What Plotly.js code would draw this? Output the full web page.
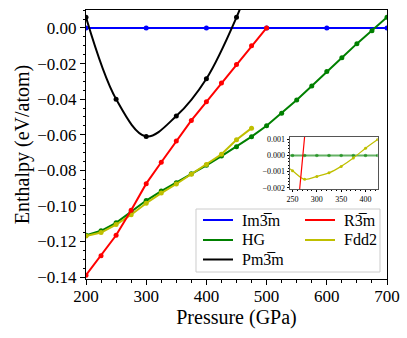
<!DOCTYPE html>
<html>
<head>
<meta charset="utf-8">
<script src="https://cdn.plot.ly/plotly-3.0.1.min.js"></script>
<style>
  body { margin: 0; background: #fff; }
  #plot { width: 407px; height: 338px; }
</style>
</head>
<body>
<div id="plot"></div>
<script>
// data (enthalpy relative to Im-3m, eV/atom)
var imP = [200, 300, 400, 500, 600, 700];
var imE = [0, 0, 0, 0, 0, 0];

var hgP = [200, 225, 250, 275, 300, 325, 350, 375, 400, 425, 450, 475, 500, 525, 550, 575, 600, 625, 650, 675, 700];
var hgE = [-0.1165, -0.1140, -0.1095, -0.1035, -0.0970, -0.0917, -0.0870, -0.0820, -0.0772, -0.0720, -0.0667, -0.0611,
           -0.0550, -0.0480, -0.0405, -0.0326, -0.0244, -0.0167, -0.0088, -0.0015, 0.0060];

var fddP = [200, 225, 250, 275, 300, 325, 350, 375, 400, 425, 450, 475];
var fddE = [-0.1170, -0.1150, -0.1105, -0.1050, -0.0985, -0.0928, -0.0877, -0.0822, -0.0768, -0.0710, -0.0628, -0.0563];

var rP = [200, 225, 250, 275, 300, 325, 350, 375, 400, 425, 450, 475, 500];
var rE = [-0.1390, -0.1280, -0.1165, -0.1025, -0.0875, -0.0755, -0.0635, -0.0520, -0.0415, -0.0310, -0.0205, -0.0100, 0.0000];

var pmP = [200, 250, 300, 350, 400, 450, 475];
var pmE = [0.0060, -0.0400, -0.0610, -0.0495, -0.0285, 0.0060, 0.0280];

// inset: relative to HG
var insP = [225, 250, 275, 300, 325, 350, 375, 400, 425];
var insHG = [0, 0, 0, 0, 0, 0, 0, 0, 0];
var insFdd = [-0.0004, -0.00095, -0.00148, -0.0013, -0.00108, -0.00068, -0.00016, 0.00044, 0.00098];
var insRP = [250, 275];
var insR = [-0.0068, 0.0012];

var names = ["Im3\u0305m", "HG", "Pm3\u0305m", "R3\u0305m", "Fdd2"];
var colors = ["#0000ff", "#008000", "#000000", "#ff0000", "#bfbf00"];

var serif = "Liberation Serif, Times New Roman, serif";

function curve(x, y, color, shape) {
  return {
    x: x, y: y, type: "scatter", mode: "lines+markers",
    line: { color: color, width: 2, shape: shape || "linear" },
    marker: { color: color, size: 5 },
    showlegend: false, hoverinfo: "skip"
  };
}

var traces = [
  curve(imP, imE, colors[0]),
  curve(hgP, hgE, colors[1]),
  curve(fddP, fddE, colors[4]),
  curve(rP, rE, colors[3]),
  curve(pmP, pmE, colors[2], "spline")
];

// inset traces
var tHG = curve(insP, insHG, "rgba(0,128,0,0.6)");
tHG.marker.size = 3.5; tHG.line.width = 2;
var tFdd = curve(insP, insFdd, colors[4], "spline");
tFdd.marker.size = 3; tFdd.line.width = 1.2;
var tR = curve(insRP, insR, colors[3]);
tR.mode = "lines"; tR.line.width = 1.2;
[tHG, tFdd, tR].forEach(function (t) { t.xaxis = "x2"; t.yaxis = "y2"; traces.push(t); });

// legend drawn by hand (2 columns, like the original)
var shapes = [{
  type: "rect", xref: "paper", yref: "paper",
  x0: 0.3654, x1: 0.9767, y0: 0.026, y1: 0.2602,
  line: { color: "#cccccc", width: 1 }, fillcolor: "rgba(255,255,255,0.85)", layer: "above"
}];
var annotations = [];
var legX = [0.3887, 0.3887, 0.3887, 0.7276, 0.7276];
var legY = [0.2193, 0.1450, 0.0725, 0.2193, 0.1450];
for (var i = 0; i < names.length; i++) {
  shapes.push({
    type: "line", xref: "paper", yref: "paper",
    x0: legX[i], x1: legX[i] + 0.0997, y0: legY[i], y1: legY[i],
    line: { color: colors[i], width: 2 }, layer: "above"
  });
  annotations.push({
    xref: "paper", yref: "paper", x: legX[i] + 0.123, y: legY[i],
    xanchor: "left", yanchor: "middle", showarrow: false, text: names[i],
    font: { family: serif, size: 16, color: "#000" }
  });
}

var layout = {
  width: 407, height: 338,
  margin: { l: 86, r: 20, t: 10, b: 59 },
  paper_bgcolor: "#fff", plot_bgcolor: "#fff",
  showlegend: false,
  font: { family: serif, color: "#000" },
  xaxis: {
    range: [200, 700], dtick: 100, tick0: 200,
    showgrid: false, zeroline: false,
    showline: true, mirror: true, linecolor: "#000", linewidth: 1,
    ticks: "outside", ticklen: 5, tickcolor: "#000",
    minor: { dtick: 25, ticks: "outside", ticklen: 2.5, tickcolor: "#000" },
    tickfont: { family: serif, size: 17 }, ticklabelstandoff: -3,
    title: { text: "Pressure (GPa)", font: { family: serif, size: 20 }, standoff: 0 }
  },
  yaxis: {
    range: [-0.1411, 0.0101], dtick: 0.02, tick0: 0, tickformat: ".2f",
    showgrid: false, zeroline: false,
    showline: true, mirror: true, linecolor: "#000", linewidth: 1,
    ticks: "outside", ticklen: 5, tickcolor: "#000",
    minor: { dtick: 0.005, ticks: "outside", ticklen: 2.5, tickcolor: "#000" },
    tickfont: { family: serif, size: 17 },
    title: { text: "Enthalpy (eV/atom)", font: { family: serif, size: 20 }, standoff: 2 }
  },
  xaxis2: {
    domain: [0.678, 0.969], anchor: "y2",
    range: [245, 425], tickvals: [250, 300, 350, 400],
    showgrid: false, zeroline: false,
    showline: true, mirror: true, linecolor: "#555", linewidth: 1,
    ticks: "outside", ticklen: 2.5, tickcolor: "#000",
    minor: { dtick: 10, ticks: "outside", ticklen: 1.5, tickcolor: "#000" },
    tickfont: { family: serif, size: 8 }
  },
  yaxis2: {
    domain: [0.3346, 0.528], anchor: "x2",
    range: [-0.00208, 0.00114], tickvals: [-0.002, -0.001, 0, 0.001], tickformat: ".3f",
    showgrid: false, zeroline: false,
    showline: true, mirror: true, linecolor: "#555", linewidth: 1,
    ticks: "outside", ticklen: 2.5, tickcolor: "#000",
    minor: { dtick: 0.0002, ticks: "outside", ticklen: 1.5, tickcolor: "#000" },
    tickfont: { family: serif, size: 8 }
  },
  shapes: shapes,
  annotations: annotations
};

Plotly.newPlot("plot", traces, layout, { displayModeBar: false, staticPlot: true });
</script>
</body>
</html>
